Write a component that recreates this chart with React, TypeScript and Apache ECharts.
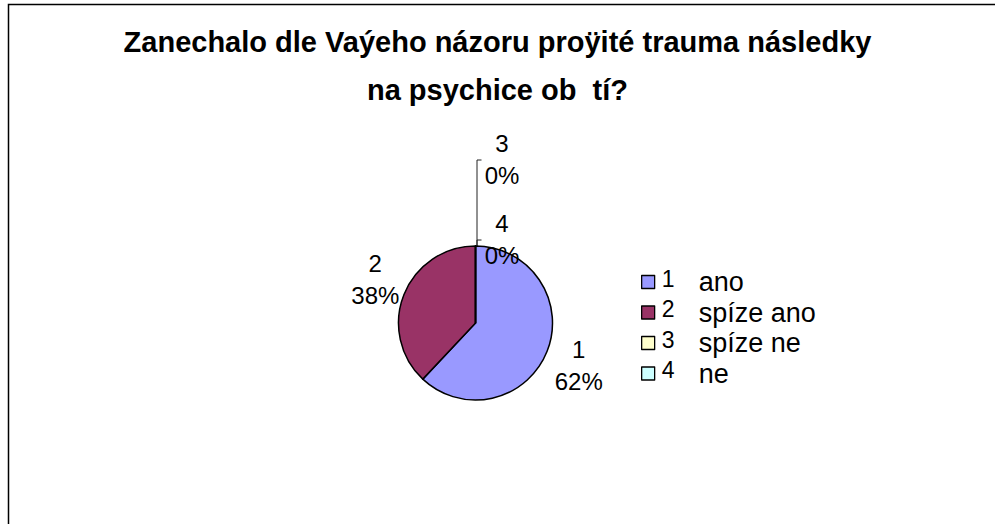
import React, { useEffect, useRef } from "react";
import * as echarts from "echarts";

const categories = ["1", "2", "3", "4"];
const values = [62, 38, 0, 0];
const legendTexts = ["ano", "spíze ano", "spíze ne", "ne"];
const colors = ["#9999FF", "#993366", "#FFFFCC", "#CCFFFF"];
const titleText = "Zanechalo dle Vaýeho názoru proÿité trauma následky\nna psychice ob  tí?";

const FONT = "'Liberation Sans', Arial, sans-serif";
const CX = 475.5;
const CY = 323;
const R = 77;

export default function App() {
  const ref = useRef<HTMLDivElement>(null);
  useEffect(() => {
    if (!ref.current) return;
    const chart = echarts.init(ref.current, undefined, { renderer: "svg" });
    const total = values.reduce((a, b) => a + b, 0);
    const mids: number[] = [];
    let cum = 0;
    values.forEach((v) => {
      mids.push(((cum + v / 2) / total) * Math.PI * 2);
      cum += v;
    });
    const zeroRank: number[] = [];
    let rk = 0;
    for (let i = values.length - 1; i >= 0; i--) {
      if (values[i] === 0) {
        zeroRank[i] = rk++;
      }
    }
    const option: any = {
      animation: false,
      backgroundColor: "#fff",
      title: {
        text: titleText,
        left: "center",
        top: 13,
        textStyle: {
          fontFamily: FONT,
          fontSize: 29,
          fontWeight: "bold",
          color: "#000",
          lineHeight: 48,
        },
      },
      legend: {
        orient: "vertical",
        left: 641,
        top: 267,
        padding: 0,
        itemGap: 2,
        itemWidth: 13,
        itemHeight: 13,
        icon: "rect",
        selectedMode: false,
        data: categories,
        itemStyle: { borderColor: "#000", borderWidth: 1.3 },
        formatter: (name: string) => {
          const i = categories.indexOf(name);
          return `{n|${name}}{t|${legendTexts[i]}}`;
        },
        textStyle: {
          fontFamily: FONT,
          color: "#000",
          rich: {
            n: {
              fontFamily: FONT,
              fontSize: 23,
              lineHeight: 26,
              verticalAlign: "top",
              width: 37,
              padding: [0, 0, 0, 2],
              color: "#000",
            },
            t: {
              fontFamily: FONT,
              fontSize: 27,
              lineHeight: 30,
              color: "#000",
            },
          },
        },
      },
      series: [
        {
          type: "pie",
          center: [CX, CY],
          radius: R,
          startAngle: 90,
          clockwise: true,
          data: categories.map((c, i) => ({
            name: c,
            value: values[i],
            itemStyle: { color: colors[i] },
            labelLine: { show: values[i] === 0 },
          })),
          itemStyle: { borderColor: "#000", borderWidth: 1.5 },
          label: {
            show: true,
            position: "outside",
            formatter: (p: any) => `${p.name}\n${Math.round(p.percent)}%`,
            fontFamily: FONT,
            fontSize: 24,
            lineHeight: 32,
            color: "#000",
            align: "center",
          },
          labelLine: {
            show: false,
            lineStyle: { color: "#222", width: 1 },
          },
          labelLayout: (params: any) => {
            const i = params.dataIndex;
            if (values[i] === 0) {
              const y = CY - R - 7 - zeroRank[i] * 80;
              const x = CX + 26.5;
              return {
                x,
                y,
                align: "center",
                verticalAlign: "middle",
                labelLinePoints: [
                  [CX + 1.5, CY - R],
                  [CX + 1.5, y + 1],
                  [CX + 6, y + 1],
                ],
              };
            }
            const a = mids[i];
            const d = R + 34;
            return {
              x: CX + d * Math.sin(a) + (Math.sin(a) < 0 ? 3 : 0),
              y: CY - d * Math.cos(a) + (Math.sin(a) < 0 ? -3 : 2),
              align: "center",
              verticalAlign: "middle",
            };
          },
        },
      ],
      graphic: [
        {
          type: "rect",
          shape: { x: 8.5, y: 4.5, width: 1100, height: 700 },
          style: { fill: "none", stroke: "#000", lineWidth: 1.5 },
          silent: true,
        },
      ],
    };
    chart.setOption(option);
    return () => chart.dispose();
  }, []);
  return (
    <div
      ref={ref}
      style={{ position: "absolute", left: 0, top: 0, width: 995, height: 524 }}
    />
  );
}
